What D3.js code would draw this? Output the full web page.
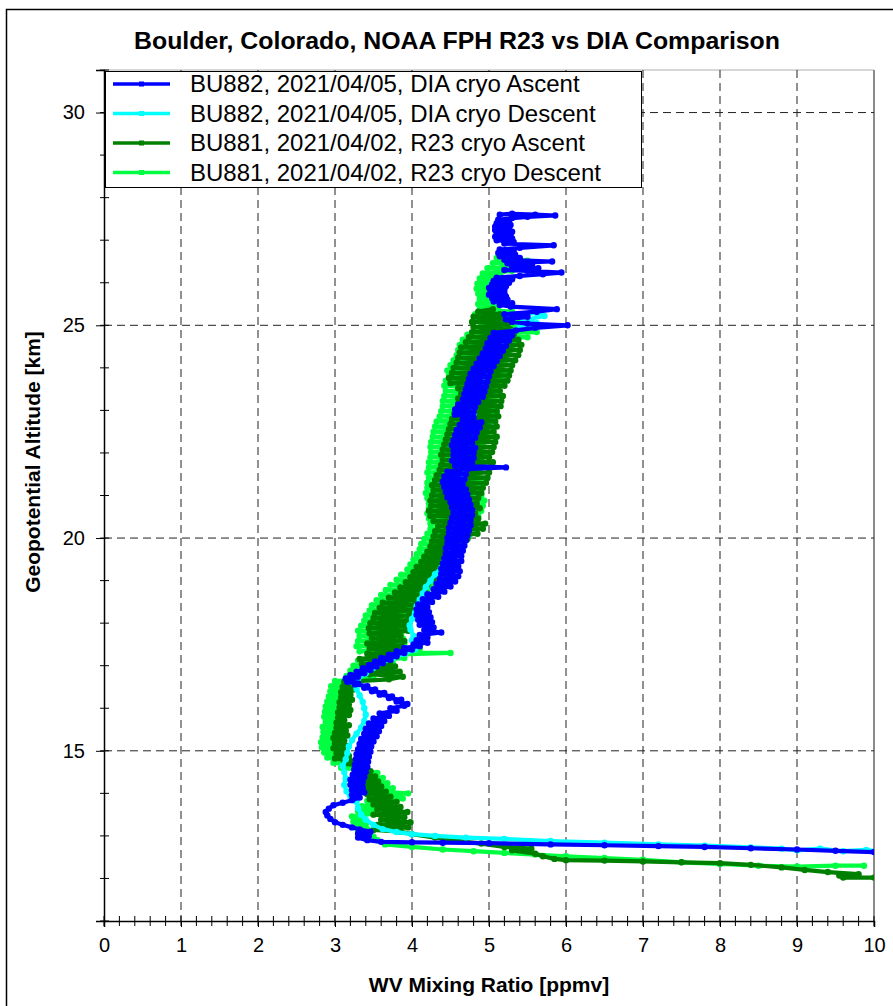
<!DOCTYPE html>
<html>
<head>
<meta charset="utf-8">
<script src="https://cdn.jsdelivr.net/npm/d3@7"></script>
<style>
  body { margin: 0; background: #fff; }
  text { font-family: Arial, "Liberation Sans", sans-serif; fill: #000; }
</style>
</head>
<body>
<svg id="chart" width="893" height="1006"></svg>
<script>
// values: [WV mixing ratio (ppmv), geopotential altitude (km)]
const diaAscent = [
  [12.5,12.52],[11.2,12.57],[10.0,12.62],[9.5,12.65],[9.0,12.68],[8.4,12.71],[7.8,12.74],[7.2,12.76],[6.5,12.78],[5.8,12.8],
  [5.0,12.83],[4.4,12.84],[4.0,12.85],[3.6,12.86],[3.42,12.9],[3.3,12.96],[3.44,13.0],[3.3,13.05],[3.46,13.1],[3.32,13.15],
  [3.22,13.2],[3.1,13.26],[3.0,13.32],[2.94,13.4],[2.9,13.48],[2.88,13.56],[2.92,13.64],[2.98,13.72],[3.1,13.78],[3.22,13.84],
  [3.32,13.9],[3.22,13.96],[3.38,14.02],[3.22,14.08],[3.36,14.14],[3.2,14.2],[3.36,14.26],[3.2,14.32],[3.38,14.38],[3.23,14.44],
  [3.4,14.5],[3.25,14.56],[3.42,14.62],[3.26,14.68],[3.43,14.74],[3.27,14.8],[3.44,14.86],[3.28,14.92],[3.46,14.98],[3.3,15.04],
  [3.47,15.1],[3.32,15.16],[3.5,15.22],[3.34,15.28],[3.54,15.34],[3.38,15.4],[3.57,15.46],[3.4,15.52],[3.6,15.58],[3.44,15.64],
  [3.64,15.7],[3.5,15.76],[3.7,15.82],[3.58,15.88],[3.8,15.94],[3.72,16.0],[3.9,16.06],[3.94,16.1],[3.8,16.16],[3.86,16.2],
  [3.7,16.24],[3.74,16.28],[3.58,16.32],[3.64,16.36],[3.48,16.4],[3.52,16.44],[3.38,16.48],[3.42,16.52],[3.26,16.56],[3.3,16.58],
  [3.16,16.62],[3.24,16.66],[3.14,16.7],[3.3,16.74],[3.2,16.78],[3.38,16.82],[3.28,16.86],[3.46,16.9],[3.36,16.94],[3.54,16.98],
  [3.44,17.02],[3.62,17.06],[3.52,17.1],[3.72,17.14],[3.6,17.18],[3.8,17.22],[3.7,17.26],[3.9,17.3],[3.8,17.34],[4.0,17.38],
  [3.9,17.42],[4.1,17.46],[4.02,17.5],[4.2,17.54],[4.06,17.6],[4.2,17.66],[4.1,17.72],[4.38,17.78],[4.16,17.84],[4.28,17.9],
  [4.1,17.96],[4.26,18.02],[4.08,18.08],[4.24,18.14],[4.06,18.2],[4.22,18.26],[4.06,18.32],[4.2,18.38],[4.08,18.44],[4.26,18.5],
  [4.14,18.56],[4.34,18.62],[4.2,18.68],[4.42,18.74],[4.28,18.8],[4.5,18.86],[4.32,18.92],[4.56,18.98],[4.36,19.04],[4.6,19.1],
  [4.38,19.16],[4.62,19.22],[4.38,19.28],[4.6,19.34],[4.4,19.4],[4.64,19.46],[4.42,19.52],[4.64,19.58],[4.44,19.64],[4.66,19.7],
  [4.44,19.76],[4.68,19.82],[4.46,19.88],[4.7,19.94],[4.46,20.0],[4.72,20.06],[4.48,20.12],[4.74,20.18],[4.48,20.24],[4.76,20.3],
  [4.5,20.36],[4.76,20.42],[4.52,20.48],[4.78,20.54],[4.54,20.6],[4.78,20.66],[4.52,20.72],[4.76,20.78],[4.5,20.84],[4.74,20.9],
  [4.46,20.96],[4.72,21.02],[4.44,21.08],[4.7,21.14],[4.42,21.2],[4.66,21.26],[4.4,21.32],[4.68,21.38],[4.42,21.44],[4.7,21.5],
  [4.46,21.56],[4.72,21.62],[5.22,21.66],[4.56,21.7],[4.78,21.76],[4.52,21.82],[4.8,21.88],[4.54,21.94],[4.8,22.0],[4.54,22.06],
  [4.82,22.12],[4.52,22.18],[4.78,22.24],[4.54,22.3],[4.82,22.36],[4.56,22.42],[4.84,22.48],[4.58,22.54],[4.88,22.6],[4.62,22.66],
  [4.9,22.72],[4.66,22.78],[4.8,22.84],[4.56,22.9],[4.8,22.96],[4.56,23.02],[4.82,23.08],[4.6,23.14],[4.86,23.2],[4.66,23.26],
  [4.92,23.32],[4.68,23.38],[4.94,23.44],[4.7,23.5],[4.96,23.56],[4.72,23.62],[4.98,23.68],[4.74,23.74],[5.0,23.8],[4.76,23.86],
  [5.02,23.92],[4.8,23.98],[5.06,24.04],[4.84,24.1],[5.1,24.16],[4.88,24.22],[5.14,24.28],[4.92,24.34],[5.18,24.4],[4.96,24.46],
  [5.22,24.52],[4.98,24.58],[5.26,24.64],[5.02,24.7],[5.3,24.76],[5.06,24.82],[5.35,24.88],[5.6,24.94],[6.02,25.0],[5.5,25.04],
  [5.3,25.08],[5.22,25.14],[5.5,25.2],[5.2,25.26],[5.62,25.32],[5.88,25.38],[5.28,25.44],[5.14,25.48],[5.3,25.52],[5.06,25.56],
  [5.24,25.6],[5.04,25.64],[5.22,25.68],[5.0,25.72],[5.2,25.76],[5.02,25.8],[5.2,25.84],[5.0,25.88],[5.22,25.92],[5.04,25.96],
  [5.26,26.0],[5.06,26.04],[5.3,26.08],[5.1,26.12],[5.4,26.16],[5.7,26.2],[5.94,26.24],[5.5,26.28],[5.2,26.3],[5.64,26.34],
  [5.3,26.38],[5.56,26.42],[5.24,26.46],[5.82,26.5],[5.2,26.54],[5.4,26.58],[5.14,26.62],[5.34,26.66],[5.12,26.7],[5.32,26.74],
  [5.14,26.78],[5.4,26.82],[5.84,26.88],[5.2,26.92],[5.32,26.96],[5.1,27.0],[5.3,27.04],[5.08,27.08],[5.28,27.12],[5.1,27.16],
  [5.3,27.2],[5.08,27.24],[5.26,27.28],[5.08,27.32],[5.28,27.36],[5.1,27.4],[5.26,27.44],[5.12,27.48],[5.3,27.52],[5.5,27.55],
  [5.86,27.58],[5.6,27.6],[5.3,27.62],[5.14,27.6]
];

const diaDescent = [
  [5.55,25.3],[5.72,25.22],[5.45,25.12],[5.62,25.05],[5.4,24.95],[5.3,24.85],[5.2,24.7],[5.15,24.55],[5.08,24.4],[5.1,24.25],
  [5.02,24.1],[5.0,23.95],[4.95,23.8],[4.9,23.65],[4.86,23.5],[4.84,23.35],[4.8,23.2],[4.78,23.05],[4.8,22.9],[4.76,22.75],
  [4.74,22.6],[4.76,22.45],[4.72,22.3],[4.75,22.15],[4.7,22.0],[4.68,21.85],[4.7,21.7],[4.66,21.55],[4.64,21.4],[4.66,21.25],
  [4.62,21.1],[4.6,20.95],[4.62,20.8],[4.58,20.65],[4.56,20.5],[4.58,20.35],[4.54,20.2],[4.52,20.05],[4.5,19.9],[4.5,19.75],
  [4.46,19.6],[4.42,19.45],[4.38,19.3],[4.3,19.15],[4.24,19.0],[4.18,18.85],[4.14,18.7],[4.1,18.55],[4.06,18.4],[4.04,18.25],
  [4.0,18.1],[3.97,17.95],[3.98,17.85],[4.02,17.7],[4.0,17.6],[4.05,17.48],[4.04,17.38],[3.9,17.28],[3.75,17.18],[3.62,17.08],
  [3.5,16.95],[3.4,16.82],[3.3,16.7],[3.24,16.6],[3.28,16.45],[3.32,16.3],[3.36,16.15],[3.38,16.0],[3.4,15.85],[3.38,15.7],
  [3.34,15.55],[3.28,15.4],[3.22,15.25],[3.18,15.1],[3.16,14.95],[3.14,14.8],[3.1,14.65],[3.12,14.5],[3.14,14.35],[3.12,14.2],
  [3.15,14.05],[3.2,13.92],[3.28,13.8],[3.3,13.65],[3.34,13.5],[3.4,13.38],[3.5,13.26],[3.62,13.16],[3.8,13.09],[4.0,13.04],
  [4.3,13.0],[4.7,12.96],[5.2,12.93],[5.8,12.88],[6.5,12.84],[7.2,12.8],[7.8,12.77],[8.4,12.73],[8.8,12.7],[9.0,12.66],
  [9.3,12.7],[9.6,12.64],[9.9,12.67],[10.2,12.61],[11.0,12.56]
];

const r23Ascent = [
  [11.5,11.95],[10.6,12.0],[10.0,12.02],[9.6,12.02],[9.55,12.07],[9.8,12.1],[9.4,12.15],[9.1,12.2],[8.8,12.26],[8.4,12.32],
  [8.0,12.36],[7.5,12.38],[7.0,12.4],[6.5,12.42],[6.0,12.43],[5.85,12.46],[5.7,12.52],[5.6,12.58],[5.3,12.66],[5.55,12.7],
  [5.2,12.74],[4.9,12.82],[4.6,12.88],[4.3,12.96],[4.0,13.04],[3.85,13.1],
  [3.5,13.14],[3.95,13.2],[3.55,13.26],[3.98,13.32],[3.6,13.38],[3.9,13.44],[3.5,13.5],[3.94,13.56],[3.55,13.62],[3.85,13.68],
  [3.5,13.74],[3.8,13.8],[3.45,13.86],[3.72,13.92],[3.42,13.98],[3.66,14.04],[3.4,14.1],[3.6,14.16],[3.38,14.22],[3.56,14.28],
  [3.36,14.34],[3.52,14.4],[3.34,14.46],[3.46,14.52],[3.3,14.58],[3.35,14.64],[3.12,14.7],[3.2,14.76],[3.0,14.82],[3.18,14.88],
  [3.02,14.94],[3.15,15.0],[2.98,15.06],[3.14,15.12],[3.0,15.18],[3.12,15.24],[2.98,15.3],[3.16,15.36],[3.0,15.42],[3.14,15.48],
  [3.02,15.54],[3.18,15.6],[3.02,15.66],[3.12,15.72],[3.04,15.78],[3.18,15.84],[3.04,15.9],[3.2,15.96],[3.06,16.02],[3.18,16.08],
  [3.06,16.14],[3.22,16.2],[3.08,16.26],[3.2,16.32],[3.08,16.38],[3.24,16.44],[3.1,16.5],[3.26,16.56],[3.12,16.62],[3.7,16.68],
  [3.88,16.74],[3.45,16.8],[3.84,16.86],[3.4,16.92],[3.78,16.98],[3.35,17.04],[3.72,17.1],[3.32,17.16],[3.68,17.22],[3.42,17.28],
  [3.92,17.34],[3.45,17.4],[3.86,17.46],[3.42,17.52],[3.9,17.58],[3.48,17.64],[3.85,17.7],[3.45,17.76],[3.95,17.82],[3.44,17.88],
  [3.9,17.94],[3.46,18.0],[3.94,18.06],[3.5,18.12],[3.96,18.18],[3.52,18.24],[4.0,18.3],[3.58,18.36],[4.04,18.42],[3.62,18.48],
  [4.08,18.54],[3.7,18.6],[4.12,18.66],[3.78,18.72],[4.16,18.78],[3.85,18.84],[4.2,18.9],[3.92,18.96],[4.28,19.02],[3.98,19.08],
  [4.34,19.14],[4.02,19.2],[4.38,19.26],[4.06,19.32],[4.4,19.38],[4.12,19.44],[4.42,19.5],[4.16,19.56],[4.5,19.62],[4.2,19.68],
  [4.55,19.74],[4.24,19.8],[4.62,19.86],[4.26,19.92],[4.72,19.98],[4.28,20.04],[4.85,20.1],[4.3,20.16],[4.92,20.22],[4.34,20.28],
  [4.95,20.34],[4.28,20.4],[4.86,20.46],[4.24,20.52],[4.82,20.58],[4.22,20.64],[4.88,20.7],[4.25,20.76],[4.84,20.82],[4.24,20.88],
  [4.86,20.94],[4.26,21.0],[4.9,21.06],[4.28,21.12],[4.92,21.18],[4.26,21.24],[4.96,21.3],[4.3,21.36],[4.98,21.42],[4.32,21.48],
  [5.0,21.54],[4.36,21.6],[5.02,21.66],[4.38,21.72],[5.05,21.78],[4.4,21.84],[5.0,21.9],[4.38,21.96],[5.04,22.02],[4.4,22.08],
  [5.06,22.14],[4.42,22.2],[5.08,22.26],[4.44,22.32],[5.1,22.38],[4.46,22.44],[5.06,22.5],[4.48,22.56],[5.1,22.62],[4.5,22.68],
  [5.08,22.74],[4.52,22.8],[5.12,22.86],[4.55,22.92],[5.1,22.98],[4.58,23.04],[5.15,23.1],[4.6,23.16],[5.16,23.22],[4.6,23.28],
  [5.18,23.34],[4.64,23.4],[5.14,23.46],[4.6,23.52],[5.2,23.58],[4.5,23.64],[5.24,23.7],[4.48,23.76],[5.26,23.82],[4.52,23.88],
  [5.28,23.94],[4.54,24.0],[5.3,24.06],[4.58,24.12],[5.34,24.18],[4.6,24.24],[5.38,24.3],[4.62,24.36],[5.4,24.42],[4.64,24.48],
  [5.42,24.54],[4.7,24.6],[5.38,24.66],[4.74,24.72],[5.32,24.78],[4.78,24.84],[5.28,24.9],[4.8,24.96],[5.24,25.02],[4.78,25.08],
  [5.2,25.14],[4.8,25.2],[5.14,25.26],[4.86,25.32],[5.05,25.38]
];

const r23Descent = [
  [5.1,26.58],[5.5,26.52],[5.05,26.46],[5.45,26.4],[4.98,26.34],[5.3,26.28],[4.92,26.22],[5.15,26.16],[4.88,26.1],[5.1,26.04],
  [4.85,25.98],[5.05,25.92],[4.84,25.86],[5.02,25.8],[4.86,25.74],[5.05,25.68],[4.88,25.62],[5.06,25.56],[4.86,25.5],[5.12,25.44],
  [4.88,25.38],[5.3,25.32],[4.82,25.26],[5.45,25.2],[4.85,25.14],[5.55,25.08],[4.9,25.02],[5.6,24.96],[4.82,24.9],[5.62,24.84],
  [4.72,24.78],[5.5,24.72],[4.66,24.66],[5.38,24.6],[4.62,24.54],[5.3,24.48],[4.6,24.42],[5.26,24.36],[4.58,24.3],[5.22,24.24],
  [4.54,24.18],[5.2,24.12],[4.5,24.06],[5.16,24.0],[4.46,23.94],[5.2,23.88],[4.48,23.82],[5.18,23.76],[4.44,23.7],[5.16,23.64],
  [4.42,23.58],[5.12,23.52],[4.44,23.46],[5.1,23.4],[4.42,23.34],[5.08,23.28],[4.4,23.22],[5.06,23.16],[4.4,23.1],[5.08,23.04],
  [4.38,22.98],[5.1,22.92],[4.36,22.86],[5.02,22.8],[4.32,22.74],[5.0,22.68],[4.3,22.62],[4.96,22.56],[4.28,22.5],[4.98,22.44],
  [4.27,22.38],[4.94,22.32],[4.25,22.26],[4.92,22.2],[4.24,22.14],[4.9,22.08],[4.25,22.02],[4.94,21.96],[4.24,21.9],[4.9,21.84],
  [4.22,21.78],[4.88,21.72],[4.22,21.66],[4.88,21.6],[4.2,21.54],[4.85,21.48],[4.22,21.42],[4.88,21.36],[4.2,21.3],[4.86,21.24],
  [4.2,21.18],[4.85,21.12],[4.18,21.06],[4.9,21.0],[4.2,20.94],[4.94,20.88],[4.22,20.82],[4.92,20.76],[4.22,20.7],[4.9,20.64],
  [4.2,20.58],[4.86,20.52],[4.22,20.46],[4.84,20.4],[4.24,20.34],[4.82,20.28],[4.24,20.22],[4.8,20.16],[4.2,20.1],[4.74,20.04],
  [4.16,19.98],[4.66,19.92],[4.12,19.86],[4.6,19.8],[4.1,19.74],[4.55,19.68],[4.06,19.62],[4.5,19.56],[4.02,19.5],[4.46,19.44],
  [3.98,19.38],[4.44,19.32],[3.94,19.26],[4.4,19.2],[3.86,19.14],[4.34,19.08],[3.8,19.02],[4.28,18.96],[3.72,18.9],[4.25,18.84],
  [3.66,18.78],[4.2,18.72],[3.6,18.66],[4.14,18.6],[3.54,18.54],[4.1,18.48],[3.48,18.42],[4.05,18.36],[3.45,18.3],[4.0,18.24],
  [3.4,18.18],[3.96,18.12],[3.38,18.06],[3.94,18.0],[3.34,17.94],[3.9,17.88],[3.3,17.82],[3.86,17.76],[3.32,17.7],[3.88,17.64],
  [3.3,17.58],[3.9,17.52],[3.28,17.46],[4.1,17.4],[3.32,17.34],[4.5,17.3],[3.45,17.24],[3.9,17.18],[3.3,17.12],[3.75,17.06],
  [3.24,17.0],[3.68,16.94],[3.2,16.88],[3.6,16.82],[3.15,16.76],[3.5,16.7],[3.0,16.64],[3.2,16.58],[2.95,16.52],[3.16,16.46],
  [2.94,16.4],[3.14,16.34],[2.92,16.28],[3.12,16.22],[2.9,16.16],[3.1,16.1],[2.88,16.04],[3.08,15.98],[2.87,15.92],[3.06,15.86],
  [2.86,15.8],[3.05,15.74],[2.88,15.68],[3.1,15.62],[2.84,15.56],[3.06,15.5],[2.85,15.44],[3.04,15.38],[2.84,15.32],[3.0,15.26],
  [2.82,15.2],[2.98,15.14],[2.83,15.08],[2.98,15.02],[2.86,14.96],[3.04,14.9],[2.9,14.84],[3.1,14.78],[2.98,14.72],[3.2,14.66],
  [3.08,14.6],[3.4,14.54],[3.55,14.48],[3.3,14.42],[3.62,14.36],[3.34,14.3],[3.68,14.24],[3.36,14.18],[3.75,14.12],[3.4,14.06],
  [3.95,14.0],[3.48,13.94],[3.88,13.88],[3.42,13.82],[3.75,13.76],[3.35,13.7],[3.62,13.64],[3.3,13.58],[3.5,13.52],[3.22,13.46],
  [3.38,13.4],[3.24,13.34],[3.4,13.28],[3.28,13.22],[3.42,13.16],[3.3,13.1],[3.44,13.04],[3.5,12.98],[3.55,12.9],[3.65,12.8],
  [4.0,12.74],[4.4,12.68],[4.8,12.64],[5.2,12.6],[5.6,12.56],[6.0,12.52],[6.5,12.48],[7.0,12.44],[7.5,12.38],[8.0,12.34],
  [8.5,12.3],[9.0,12.28],[9.5,12.3],[9.87,12.3]
];

const seriesNames = [
  "BU882, 2021/04/05, DIA cryo Ascent",
  "BU882, 2021/04/05, DIA cryo Descent",
  "BU881, 2021/04/02, R23 cryo Ascent",
  "BU881, 2021/04/02, R23 cryo Descent"
];
const seriesColors = ["#0000ff", "#00ffff", "#008000", "#00ff40"];
const seriesData = [diaAscent, diaDescent, r23Ascent, r23Descent];

const xTicks = [0, 1, 2, 3, 4, 5, 6, 7, 8, 9, 10];
const yTicks = [15, 20, 25, 30];

const svg = d3.select('#chart');
const pLeft = 104, pRight = 874, pTop = 70, pBottom = 921;

let x = d3.scaleLinear().domain([0, 10]).range([pLeft, pRight]);
let y = d3.scaleLinear().domain([11, 31]).range([pBottom, pTop]);

// outer frame
svg.append('rect').attr('x', 6.5).attr('y', 9.5).attr('width', 900).attr('height', 1010)
   .attr('fill', 'none').attr('stroke', '#000').attr('stroke-width', 1.5);

// title
svg.append('text').attr('x', 457).attr('y', 49).attr('text-anchor', 'middle')
   .attr('textLength', 646).attr('lengthAdjust', 'spacingAndGlyphs')
   .style('font-size', '23px').style('font-weight', 'bold')
   .text('Boulder, Colorado, NOAA FPH R23 vs DIA Comparison');

// plot frame (top + right in grey)
svg.append('line').attr('x1', pLeft).attr('x2', pRight).attr('y1', pTop).attr('y2', pTop)
   .attr('stroke', '#c8c8c8').attr('stroke-width', 1.5);
svg.append('line').attr('x1', pRight).attr('x2', pRight).attr('y1', pTop).attr('y2', pBottom)
   .attr('stroke', '#8a8a8a').attr('stroke-width', 2);

// dashed grid
svg.append('g').selectAll('line').data(xTicks.filter(d => d > 0 && d < 10)).enter().append('line')
   .attr('x1', d => x(d)).attr('x2', d => x(d)).attr('y1', pTop).attr('y2', pBottom)
   .attr('stroke', '#222').attr('stroke-width', 1).attr('stroke-dasharray', '8,5');
svg.append('g').selectAll('line').data(yTicks).enter().append('line')
   .attr('x1', pLeft).attr('x2', pRight).attr('y1', d => y(d)).attr('y2', d => y(d))
   .attr('stroke', '#222').attr('stroke-width', 1).attr('stroke-dasharray', '8,5');

// data, drawn last series first so the DIA ascent ends on top
svg.append('clipPath').attr('id', 'plotClip').append('rect')
   .attr('x', pLeft).attr('y', pTop).attr('width', pRight - pLeft).attr('height', pBottom - pTop);
let line = d3.line().x(d => x(d[0])).y(d => y(d[1]));
let plot = svg.append('g').attr('clip-path', 'url(#plotClip)');
[3, 2, 1, 0].forEach(i => {
  let g = plot.append('g');
  g.append('path').datum(seriesData[i]).attr('d', line)
   .attr('fill', 'none').attr('stroke', seriesColors[i]).attr('stroke-width', 4.2)
   .attr('stroke-linejoin', 'round');
  g.selectAll('circle').data(seriesData[i]).enter().append('circle')
   .attr('cx', d => x(d[0])).attr('cy', d => y(d[1])).attr('r', 3.2)
   .attr('fill', seriesColors[i]);
});

// axes
let yAxis = svg.append('g').attr('transform', `translate(${pLeft},0)`)
   .call(d3.axisLeft(y).tickValues(yTicks).tickSize(8).tickPadding(11).tickFormat(d3.format('d')));
yAxis.select('.domain').attr('stroke', '#000').attr('stroke-width', 1.5);
yAxis.selectAll('text').style('font-size', '20px').style('font-family', 'Arial, "Liberation Sans", sans-serif');

let xAxis = svg.append('g').attr('transform', `translate(0,${pBottom})`)
   .call(d3.axisBottom(x).tickValues(xTicks).tickSize(6).tickPadding(11).tickFormat(d3.format('d')));
xAxis.select('.domain').attr('stroke', '#000').attr('stroke-width', 1.5);
xAxis.selectAll('text').style('font-size', '20px').style('font-family', 'Arial, "Liberation Sans", sans-serif');

// minor ticks crossing the axes
svg.append('g').selectAll('line').data(d3.range(11, 31.5, 1)).enter().append('line')
   .attr('x1', pLeft - 4).attr('x2', pLeft + 5).attr('y1', d => y(d)).attr('y2', d => y(d))
   .attr('stroke', '#000').attr('stroke-width', 1);
svg.append('g').selectAll('line').data(d3.range(0, 10.01, 0.2)).enter().append('line')
   .attr('x1', d => x(d)).attr('x2', d => x(d)).attr('y1', pBottom - 5).attr('y2', pBottom + 5)
   .attr('stroke', '#000').attr('stroke-width', 1);

// axis titles
svg.append('text').attr('x', 489).attr('y', 992).attr('text-anchor', 'middle')
   .style('font-size', '21px').style('font-weight', 'bold').text('WV Mixing Ratio [ppmv]');
svg.append('text').attr('transform', 'translate(40,462) rotate(-90)').attr('text-anchor', 'middle')
   .style('font-size', '21px').style('font-weight', 'bold').text('Geopotential Altitude [km]');

// legend
let legend = svg.append('g');
legend.append('rect').attr('x', 105.5).attr('y', 71.5).attr('width', 536).attr('height', 116)
   .attr('fill', '#fff').attr('stroke', '#000').attr('stroke-width', 1);
seriesNames.forEach((name, i) => {
  let ly = 84 + i * 29.5;
  legend.append('line').attr('x1', 113).attr('x2', 170).attr('y1', ly).attr('y2', ly)
     .attr('stroke', seriesColors[i]).attr('stroke-width', 3.5);
  legend.append('rect').attr('x', 139).attr('y', ly - 2.5).attr('width', 5).attr('height', 5)
     .attr('fill', seriesColors[i]);
  legend.append('text').attr('x', 190).attr('y', ly).attr('dy', '0.35em')
     .style('font-size', '24px').text(name);
});
</script>
</body>
</html>
